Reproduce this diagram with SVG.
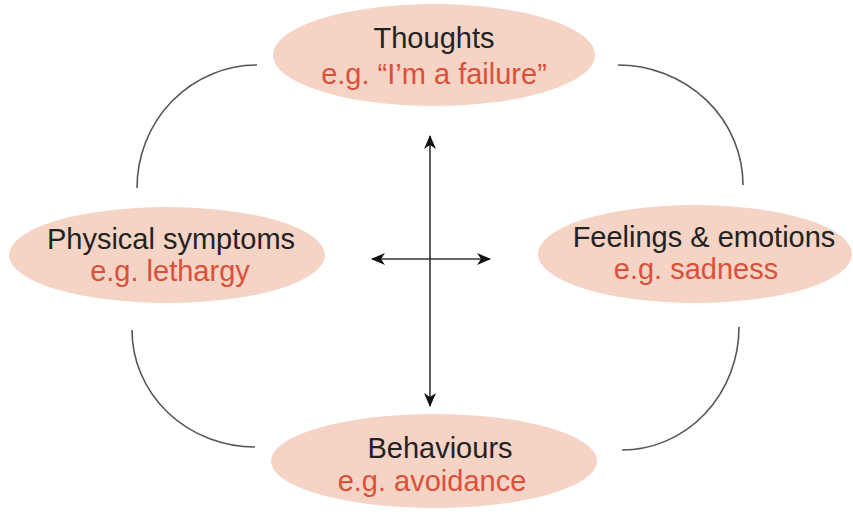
<svg xmlns="http://www.w3.org/2000/svg" width="853" height="515" viewBox="0 0 853 515">
<style>
.node ellipse{fill:#f5d4c6;}
.t1{font-family:"Liberation Sans",Arial,sans-serif;font-size:29px;fill:#222;text-anchor:middle;}
.t2{font-family:"Liberation Sans",Arial,sans-serif;font-size:29px;fill:#dc4f38;text-anchor:middle;}
.arc{fill:none;stroke:#555;stroke-width:1.6;}
.arr{fill:none;stroke:#333;stroke-width:1.6;}
</style>
<defs>
<marker id="ah" viewBox="0 0 14 12" refX="13" refY="6" markerWidth="14" markerHeight="12" markerUnits="userSpaceOnUse" orient="auto-start-reverse">
<path d="M0,0 L14,6 L0,12 L4,6 Z" fill="#111"/>
</marker>
</defs>
<rect width="853" height="515" fill="#fff"/>
<g id="thoughts" class="node">
<ellipse cx="434" cy="55" rx="161" ry="51"/>
<text class="t1" x="434" y="48">Thoughts</text>
<text class="t2" x="434" y="84">e.g. “I’m a failure”</text>
</g>
<g id="physical" class="node">
<ellipse cx="167" cy="255" rx="158" ry="48"/>
<text class="t1" x="171" y="249">Physical symptoms</text>
<text class="t2" x="170" y="281">e.g. lethargy</text>
</g>
<g id="feelings" class="node">
<ellipse cx="695" cy="254" rx="157" ry="49"/>
<text class="t1" x="704" y="247">Feelings &amp; emotions</text>
<text class="t2" x="696" y="279">e.g. sadness</text>
</g>
<g id="behaviours" class="node">
<ellipse cx="434" cy="461" rx="163" ry="47"/>
<text class="t1" x="440" y="458">Behaviours</text>
<text class="t2" x="432" y="491">e.g. avoidance</text>
</g>
<g id="connectors">
<path class="arc" d="M137,188 A120,123 0 0 1 257,65"/>
<path class="arc" d="M618,65 A125,120 0 0 1 743,185"/>
<path class="arc" d="M132,330 A123,117 0 0 0 255,447"/>
<path class="arc" d="M739,327 A117,123 0 0 1 622,450"/>
<line class="arr" x1="430" y1="136" x2="430" y2="406" marker-start="url(#ah)" marker-end="url(#ah)"/>
<line class="arr" x1="372" y1="259" x2="490" y2="259" marker-start="url(#ah)" marker-end="url(#ah)"/>
</g>
</svg>
